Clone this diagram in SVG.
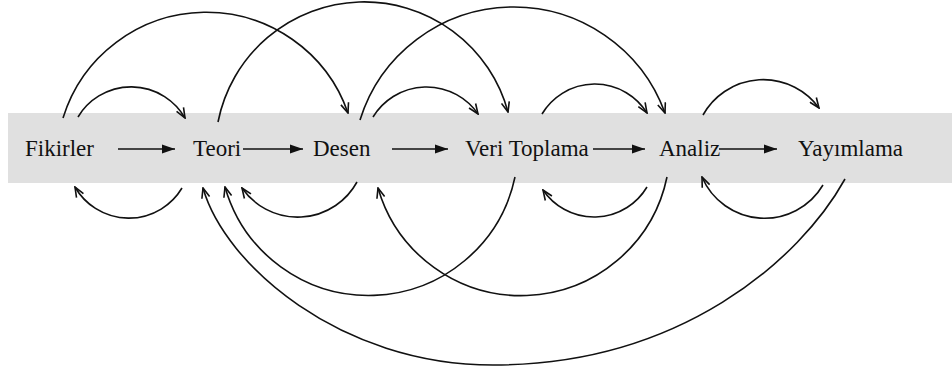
<svg xmlns="http://www.w3.org/2000/svg" width="952" height="374" viewBox="0 0 952 374">
<defs>
<style>
.lbl{font-family:"Liberation Serif","Times New Roman",serif;font-size:23px;fill:#111}
.arc{fill:none;stroke:#111;stroke-width:1.6;marker-end:url(#open)}
.str{fill:none;stroke:#111;stroke-width:1.6;marker-end:url(#solid)}
</style>
<marker id="open" markerUnits="userSpaceOnUse" viewBox="0 0 12 10" refX="11" refY="5" markerWidth="12" markerHeight="10" orient="auto">
<path d="M1,1 L11,5 L1,9" fill="none" stroke="#111" stroke-width="1.6"/>
</marker>
<marker id="solid" markerUnits="userSpaceOnUse" viewBox="0 0 13 10" refX="13" refY="5" markerWidth="13" markerHeight="10" orient="auto">
<path d="M0,0.5 L13,5 L0,9.5 z" fill="#111"/>
</marker>
</defs>
<rect x="8" y="113" width="944" height="70" fill="#e0e0e0"/>
<g id="connectors">
<line class="str" x1="118" y1="149" x2="175" y2="149"/>
<line class="str" x1="243" y1="149" x2="303" y2="149"/>
<line class="str" x1="392" y1="149" x2="448" y2="149"/>
<line class="str" x1="593" y1="149" x2="645" y2="149"/>
<line class="str" x1="719" y1="149" x2="777" y2="149"/>
<path class="arc" d="M78,117 A62,62 0 0 1 185,118"/>
<path class="arc" d="M63,118 A150,150 0 0 1 348,113"/>
<path class="arc" d="M218,122 A149,149 0 0 1 508,112"/>
<path class="arc" d="M373,117 A62.6,62.6 0 0 1 478,114"/>
<path class="arc" d="M360,120 A161,161 0 0 1 665,113"/>
<path class="arc" d="M542,114 A61.5,61.5 0 0 1 647,113"/>
<path class="arc" d="M703,115 A69,69 0 0 1 819,108"/>
<path class="arc" d="M182,188 A62,62 0 0 1 75,187"/>
<path class="arc" d="M357,182 A67.7,67.7 0 0 1 242,188"/>
<path class="arc" d="M515,177 A149.5,149.5 0 0 1 225,187"/>
<path class="arc" d="M647,187 A61.7,61.7 0 0 1 543,190"/>
<path class="arc" d="M667,177 A149,149 0 0 1 378,188"/>
<path class="arc" d="M823,185 A68,68 0 0 1 702,177"/>
<path class="arc" d="M845,179 C800,260 680,365 493,365 C340,365 225,265 203,188"/>
</g>
<g id="fikirler"><text class="lbl" x="25" y="156">Fikirler</text></g>
<g id="teori"><text class="lbl" x="193" y="156">Teori</text></g>
<g id="desen"><text class="lbl" x="313" y="156">Desen</text></g>
<g id="veri-toplama"><text class="lbl" x="465" y="156">Veri Toplama</text></g>
<g id="analiz"><text class="lbl" x="659" y="156">Analiz</text></g>
<g id="yayimlama"><text class="lbl" x="798" y="156">Yayımlama</text></g>
</svg>
